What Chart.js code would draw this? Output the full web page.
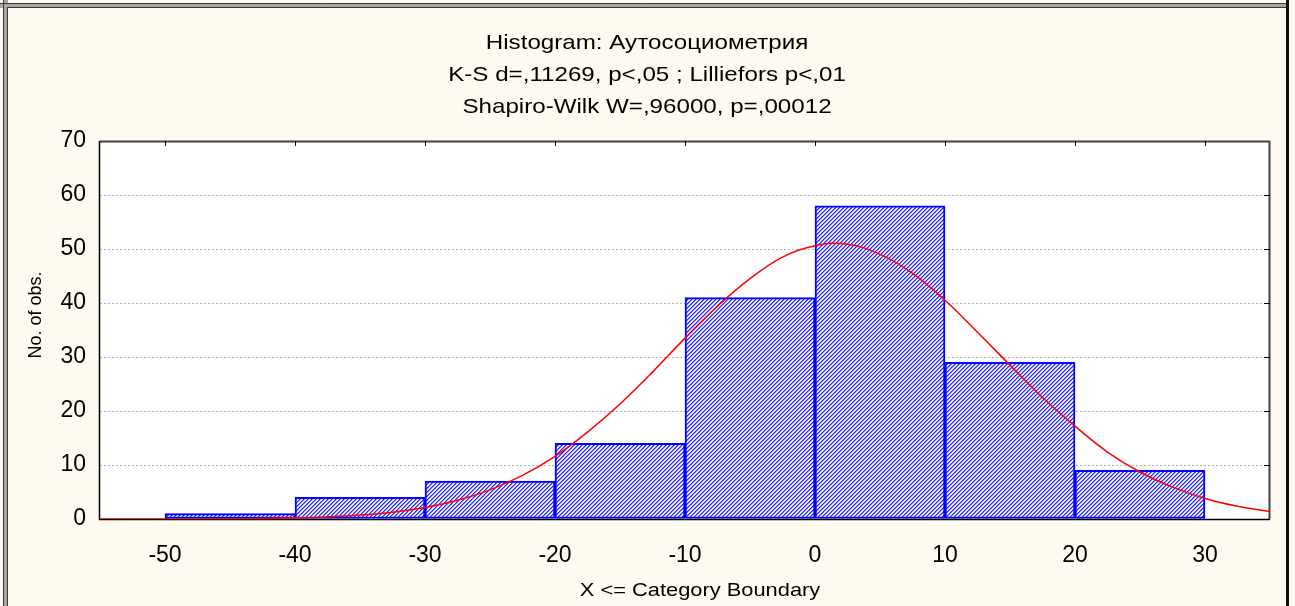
<!DOCTYPE html>
<html>
<head>
<meta charset="utf-8">
<script src="https://cdn.jsdelivr.net/npm/chart.js@4.4.0/dist/chart.umd.min.js"></script>
<style>
    html, body { margin: 0; padding: 0; background: #fffaf0; }
    #wrap { position: relative; width: 1295px; height: 606px; }
</style>
</head>
<body>
<div id="wrap"><canvas id="histChart"></canvas></div>
<script>
const titleLines = [
    'Histogram: Аутосоциометрия',
    'K-S d=,11269, p<,05 ; Lilliefors p<,01',
    'Shapiro-Wilk W=,96000, p=,00012'
];
const xAxisTitle = 'X <= Category Boundary';
const yAxisTitle = 'No. of obs.';

// histogram bins (lower edge) and counts
const binStarts = [-50, -40, -30, -20, -10, 0, 10, 20];
const binWidth = 10;
const counts = [1, 4, 7, 14, 41, 58, 29, 9];

// fitted normal curve
const curveX = [-55, -52.5, -50, -47.5, -45, -42.5, -40, -37.5, -35, -32.5, -30, -27.5, -25, -22.5, -20, -17.5, -15, -12.5, -10, -7.5, -5, -2.5, 0, 2.5, 5, 7.5, 10, 12.5, 15, 17.5, 20, 22.5, 25, 27.5, 30, 32.5, 35];
const curveY = [0, 0, 0.01, 0.02, 0.05, 0.1, 0.21, 0.39, 0.72, 1.26, 2.13, 3.46, 5.4, 8.07, 11.6, 16.1, 21.3, 27.2, 33.5, 39.4, 44.5, 48.5, 50.6, 50.9, 49.0, 45.5, 40.5, 34.6, 28.5, 22.5, 17.2, 12.4, 8.7, 5.9, 3.8, 2.36, 1.4];

const xTicks = [-50, -40, -30, -20, -10, 0, 10, 20, 30];
const yTicks = [0, 10, 20, 30, 40, 50, 60, 70];
const xMin = -55, xMax = 35, yMin = 0, yMax = 70;

const FONT = '"Liberation Sans", Arial, sans-serif';

// 4x4 "/" hatch, one colour per diagonal
function makeHatch() {
    const shades = ['#ffffff', '#d8d8ff', '#2222ff', '#8484ff'];
    const c = document.createElement('canvas');
    c.width = 4; c.height = 4;
    const g = c.getContext('2d');
    for (let px = 0; px < 4; px++) {
        for (let py = 0; py < 4; py++) {
            g.fillStyle = shades[(px + py) % 4];
            g.fillRect(px, py, 1, 1);
        }
    }
    return g.createPattern(c, 'repeat');
}

const framePlugin = {
    id: 'statFrame',
    beforeDraw(chart) {
        const { ctx, chartArea: a } = chart;
        ctx.save();
        ctx.fillStyle = '#fffaf0';
        ctx.fillRect(0, 0, chart.width, chart.height);
        ctx.fillStyle = '#ffffff';
        ctx.fillRect(a.left, a.top, a.right - a.left, a.bottom - a.top);
        ctx.restore();
    },
    beforeDatasetsDraw(chart) {
        const { ctx, chartArea: a, scales: { x, y } } = chart;
        ctx.save();
        // top + right frame
        ctx.strokeStyle = '#404040';
        ctx.lineWidth = 2;
        ctx.beginPath();
        ctx.moveTo(a.left, a.top + 0.5);
        ctx.lineTo(a.right - 0.5, a.top + 0.5);
        ctx.lineTo(a.right - 0.5, a.bottom);
        ctx.stroke();
        // inner ticks
        ctx.lineWidth = 1;
        ctx.strokeStyle = '#000';
        ctx.beginPath();
        xTicks.forEach(v => {
            const px = Math.round(x.getPixelForValue(v)) + 0.5;
            ctx.moveTo(px, a.top);
            ctx.lineTo(px, a.top + 5);
        });
        yTicks.slice(1, -1).forEach(v => {
            const py = Math.round(y.getPixelForValue(v)) + 0.5;
            ctx.moveTo(a.right, py);
            ctx.lineTo(a.right - 6, py);
        });
        ctx.stroke();
        // left + bottom axes
        ctx.strokeStyle = '#000';
        ctx.lineWidth = 1.5;
        ctx.beginPath();
        ctx.moveTo(a.left - 0.5, a.top);
        ctx.lineTo(a.left - 0.5, a.bottom + 0.5);
        ctx.lineTo(a.right, a.bottom + 0.5);
        ctx.stroke();
        ctx.restore();
    },
    afterDraw(chart) {
        const { ctx } = chart;
        ctx.save();
        ctx.fillStyle = '#000';
        ctx.textAlign = 'center';
        ctx.textBaseline = 'alphabetic';

        // titles (slightly wide text like the original)
        ctx.font = '21px ' + FONT;
        titleLines.forEach((line, i) => {
            ctx.save();
            ctx.translate(647, 49 + i * 32);
            ctx.scale(1.15, 1);
            ctx.fillText(line, 0, 0);
            ctx.restore();
        });

        ctx.font = '19px ' + FONT;
        ctx.save();
        ctx.translate(700, 596);
        ctx.scale(1.15, 1);
        ctx.fillText(xAxisTitle, 0, 0);
        ctx.restore();

        ctx.font = '18px ' + FONT;
        ctx.save();
        ctx.translate(41, 315);
        ctx.rotate(-Math.PI / 2);
        ctx.fillText(yAxisTitle, 0, 0);
        ctx.restore();

        // outer window border
        ctx.fillStyle = '#a8a8a8';
        ctx.fillRect(0, 3, 1287, 5);
        ctx.fillRect(3, 0, 5, chart.height);
        ctx.strokeStyle = '#3a3a3a';
        ctx.lineWidth = 1;
        ctx.beginPath();
        ctx.moveTo(0, 3.5); ctx.lineTo(1287, 3.5);
        ctx.moveTo(7, 7.5); ctx.lineTo(1287, 7.5);
        ctx.moveTo(3.5, 0); ctx.lineTo(3.5, chart.height);
        ctx.moveTo(7.5, 7); ctx.lineTo(7.5, chart.height);
        ctx.stroke();
        ctx.fillStyle = '#111';
        ctx.fillRect(1286, 0, 3, chart.height);
        ctx.restore();
    }
};

const ctx = document.getElementById('histChart').getContext('2d');
const hatch = makeHatch();

new Chart(ctx, {
    type: 'bar',
    data: {
        datasets: [
            {
                type: 'line',
                label: 'Normal',
                data: curveX.map((v, i) => ({ x: v, y: curveY[i] })),
                borderColor: '#ff0000',
                borderWidth: 1.5,
                pointRadius: 0,
                tension: 0.4,
                fill: false,
                order: 0
            },
            {
                type: 'bar',
                label: 'Count',
                data: binStarts.map((s, i) => ({ x: s + binWidth / 2, y: counts[i] })),
                backgroundColor: hatch,
                borderColor: '#0000ff',
                borderWidth: 2,
                borderSkipped: false,
                barPercentage: 1,
                categoryPercentage: 1,
                order: 1
            }
        ]
    },
    options: {
        responsive: true,
        maintainAspectRatio: false,
        animation: false,
        layout: { padding: { top: 141, right: 25, left: 0, bottom: 0 } },
        plugins: {
            legend: { display: false },
            tooltip: { enabled: false }
        },
        scales: {
            x: {
                type: 'linear',
                min: xMin,
                max: xMax,
                offset: false,
                afterBuildTicks: s => { s.ticks = xTicks.map(v => ({ value: v })); },
                afterFit: s => { s.height = 87; },
                grid: { display: false, offset: false },
                border: { display: false },
                ticks: {
                    color: '#000',
                    font: { family: FONT, size: 23 },
                    padding: 15,
                    maxRotation: 0
                }
            },
            y: {
                type: 'linear',
                min: yMin,
                max: yMax,
                afterBuildTicks: s => { s.ticks = yTicks.map(v => ({ value: v })); },
                afterFit: s => { s.width = 100; },
                grid: {
                    drawTicks: false,
                    color: c => (c.tick && (c.tick.value === yMin || c.tick.value === yMax)) ? 'rgba(0,0,0,0)' : '#b4b4b4',
                    lineWidth: 1
                },
                border: { display: false, dash: [2, 2] },
                ticks: {
                    color: '#000',
                    font: { family: FONT, size: 23 },
                    padding: 14
                }
            }
        }
    },
    plugins: [framePlugin]
});
</script>
</body>
</html>
